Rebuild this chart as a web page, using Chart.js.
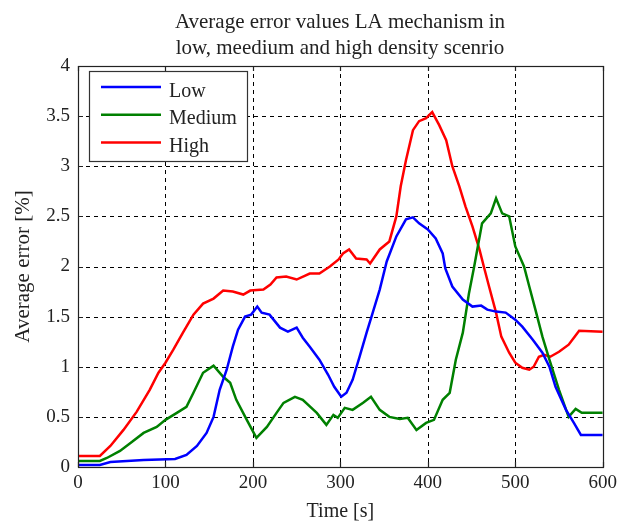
<!DOCTYPE html>
<html><head><meta charset="utf-8">
<script src="https://cdn.jsdelivr.net/npm/chart.js@4/dist/chart.umd.min.js"></script>
<style>html,body{margin:0;padding:0;background:#fff}#wrap{width:622px;height:524px}</style>
</head><body><div id="wrap"><canvas id="c" width="622" height="524"></canvas></div>
<script>
const titleLines = ["Average error values LA mechanism in", "low, meedium and high density scenrio"];
const xTitle = "Time [s]";
const yTitle = "Average error [%]";
const seriesNames = ["Low", "Medium", "High"];
const seriesColors = ["#0000ff", "#008000", "#ff0000"];

const lowT = [0,25,37,75,111,124,136,147,155,162,170,177,183,191,198,205,210,219,231,240,250,257,265,276,286,293,301,307,314,322,330,337,345,353,364,375,383,390,400,409,417,420,428,440,451,461,468,478,489,500,508,520,531,539,546,558,567,575,600];
const lowV = [0.02,0.02,0.05,0.07,0.08,0.12,0.21,0.34,0.5,0.77,0.97,1.2,1.37,1.5,1.52,1.6,1.54,1.52,1.39,1.35,1.39,1.29,1.2,1.07,0.92,0.8,0.7,0.74,0.87,1.1,1.34,1.54,1.77,2.05,2.3,2.47,2.49,2.43,2.37,2.28,2.13,1.98,1.8,1.67,1.6,1.61,1.57,1.55,1.54,1.47,1.4,1.27,1.14,1.0,0.8,0.57,0.44,0.32,0.32];

const medT = [0,25,33,48,60,75,90,100,113,124,132,143,155,166,174,181,193,204,216,227,235,248,257,273,284,292,297,305,314,326,335,345,356,368,377,387,398,407,417,425,432,440,447,453,462,472,478,485,493,500,510,516,523,531,539,550,561,569,576,600];
const medV = [0.06,0.06,0.09,0.16,0.24,0.34,0.4,0.47,0.54,0.6,0.74,0.94,1.01,0.9,0.84,0.67,0.47,0.29,0.4,0.54,0.64,0.7,0.67,0.54,0.42,0.52,0.49,0.59,0.57,0.64,0.7,0.57,0.5,0.48,0.49,0.37,0.44,0.47,0.67,0.74,1.07,1.34,1.73,2.0,2.43,2.53,2.68,2.53,2.5,2.2,2.0,1.8,1.57,1.3,1.07,0.77,0.5,0.58,0.54,0.54];

const highT = [0,25,37,52,67,82,92,100,109,120,132,143,155,166,177,189,197,212,220,227,238,250,265,276,288,298,303,310,318,330,334,345,356,364,369,375,383,390,398,405,413,421,428,436,443,451,459,464,470,478,484,493,500,508,516,521,527,533,540,550,561,567,573,600];
const highV = [0.11,0.11,0.21,0.37,0.55,0.77,0.94,1.04,1.17,1.34,1.52,1.63,1.68,1.76,1.75,1.72,1.76,1.77,1.82,1.89,1.9,1.87,1.93,1.93,2.0,2.07,2.13,2.17,2.08,2.07,2.03,2.17,2.25,2.5,2.8,3.06,3.36,3.45,3.48,3.54,3.41,3.26,3.0,2.8,2.6,2.4,2.17,2.0,1.8,1.54,1.3,1.14,1.04,0.99,0.97,1.0,1.1,1.12,1.1,1.15,1.22,1.29,1.36,1.35];

const xTicks = [0,100,200,300,400,500,600];
const yTicks = [0,0.5,1,1.5,2,2.5,3,3.5,4];

const FONT = "'Liberation Serif', 'DejaVu Serif', serif";
function pts(t, v){ return t.map((x,i)=>({x:x, y:v[i]})); }

const frame = {
  id: 'frame',
  beforeDatasetsDraw(chart){
    const {ctx, chartArea:a, scales:{x, y}} = chart;
    ctx.save();
    ctx.strokeStyle = '#000'; ctx.lineWidth = 1; ctx.setLineDash([4,4]);
    xTicks.forEach(v=>{ if(v===0||v===600) return; const px = Math.round(x.getPixelForValue(v))+0.5; ctx.beginPath(); ctx.moveTo(px,a.top); ctx.lineTo(px,a.bottom); ctx.stroke(); });
    yTicks.forEach(v=>{ if(v===0||v===4) return; const py = Math.round(y.getPixelForValue(v))+0.5; ctx.beginPath(); ctx.moveTo(a.left,py); ctx.lineTo(a.right,py); ctx.stroke(); });
    ctx.restore();
  },
  afterDatasetsDraw(chart){
    const {ctx, chartArea:a, scales:{x, y}} = chart;
    ctx.save();
    ctx.strokeStyle = '#222'; ctx.lineWidth = 1.2; ctx.setLineDash([]);
    ctx.strokeRect(Math.round(a.left)+0.5, Math.round(a.top)+0.5, Math.round(a.right-a.left), Math.round(a.bottom-a.top));
    ctx.beginPath();
    xTicks.forEach(v=>{ const px = Math.round(x.getPixelForValue(v))+0.5; ctx.moveTo(px,a.bottom); ctx.lineTo(px,a.bottom-5); ctx.moveTo(px,a.top); ctx.lineTo(px,a.top+5); });
    yTicks.forEach(v=>{ const py = Math.round(y.getPixelForValue(v))+0.5; ctx.moveTo(a.left,py); ctx.lineTo(a.left+5,py); ctx.moveTo(a.right,py); ctx.lineTo(a.right-5,py); });
    ctx.stroke();
    // title
    ctx.fillStyle = '#222'; ctx.font = "21px " + FONT; ctx.textAlign = 'center'; ctx.textBaseline = 'alphabetic';
    const cx = 340;
    ctx.fillText(titleLines[0], cx, 28);
    ctx.fillText(titleLines[1], cx, 53.5);
    // legend
    const lx = 89, ly = 71, lw = 158, lh = 90;
    ctx.fillStyle = '#fff'; ctx.fillRect(lx, ly, lw, lh);
    ctx.strokeStyle = '#333'; ctx.lineWidth = 1.2; ctx.strokeRect(lx+0.5, ly+0.5, lw, lh);
    chart.data.datasets.forEach((ds,i)=>{
      const yy = 87 + i*27.7;
      ctx.strokeStyle = ds.borderColor; ctx.lineWidth = 2.5;
      ctx.beginPath(); ctx.moveTo(101, yy); ctx.lineTo(161, yy); ctx.stroke();
      ctx.fillStyle = '#222'; ctx.font = "20px " + FONT; ctx.textAlign = 'left'; ctx.textBaseline = 'alphabetic';
      ctx.fillText(ds.label, 169, yy + 9.5);
    });
    ctx.restore();
  }
};

new Chart(document.getElementById('c'), {
  type: 'line',
  data: { datasets: [
    { label: seriesNames[0], data: pts(lowT, lowV), borderColor: seriesColors[0] },
    { label: seriesNames[1], data: pts(medT, medV), borderColor: seriesColors[1] },
    { label: seriesNames[2], data: pts(highT, highV), borderColor: seriesColors[2] }
  ]},
  options: {
    responsive: false, animation: false, devicePixelRatio: 1,
    layout: { padding: { top: 66, right: 18, left: 0, bottom: 0 } },
    elements: { point: { radius: 0 }, line: { borderWidth: 2.5, tension: 0 } },
    plugins: { legend: { display: false }, title: { display: false }, tooltip: { enabled: false } },
    scales: {
      x: { type: 'linear', min: 0, max: 600,
        afterFit(s){ s.height = 57; },
        afterBuildTicks(s){ s.ticks = xTicks.map(v=>({value:v})); },
        grid: { display: false, drawTicks: false }, border: { display: false },
        ticks: { color: '#222', font: { family: FONT, size: 19 }, padding: 5, maxRotation: 0, callback: v => String(v) },
        title: { display: true, text: xTitle, color: '#222', font: { family: FONT, size: 20 }, padding: { top: 0, bottom: 0 } } },
      y: { type: 'linear', min: 0, max: 4,
        afterFit(s){ s.width = 78; },
        afterBuildTicks(s){ s.ticks = yTicks.map(v=>({value:v})); },
        grid: { display: false, drawTicks: false }, border: { display: false },
        ticks: { color: '#222', font: { family: FONT, size: 19 }, padding: 8, callback: v => String(v) },
        title: { display: true, text: yTitle, color: '#222', font: { family: FONT, size: 21 }, padding: { top: 11, bottom: 0 } } }
    }
  },
  plugins: [frame]
});
</script></body></html>
